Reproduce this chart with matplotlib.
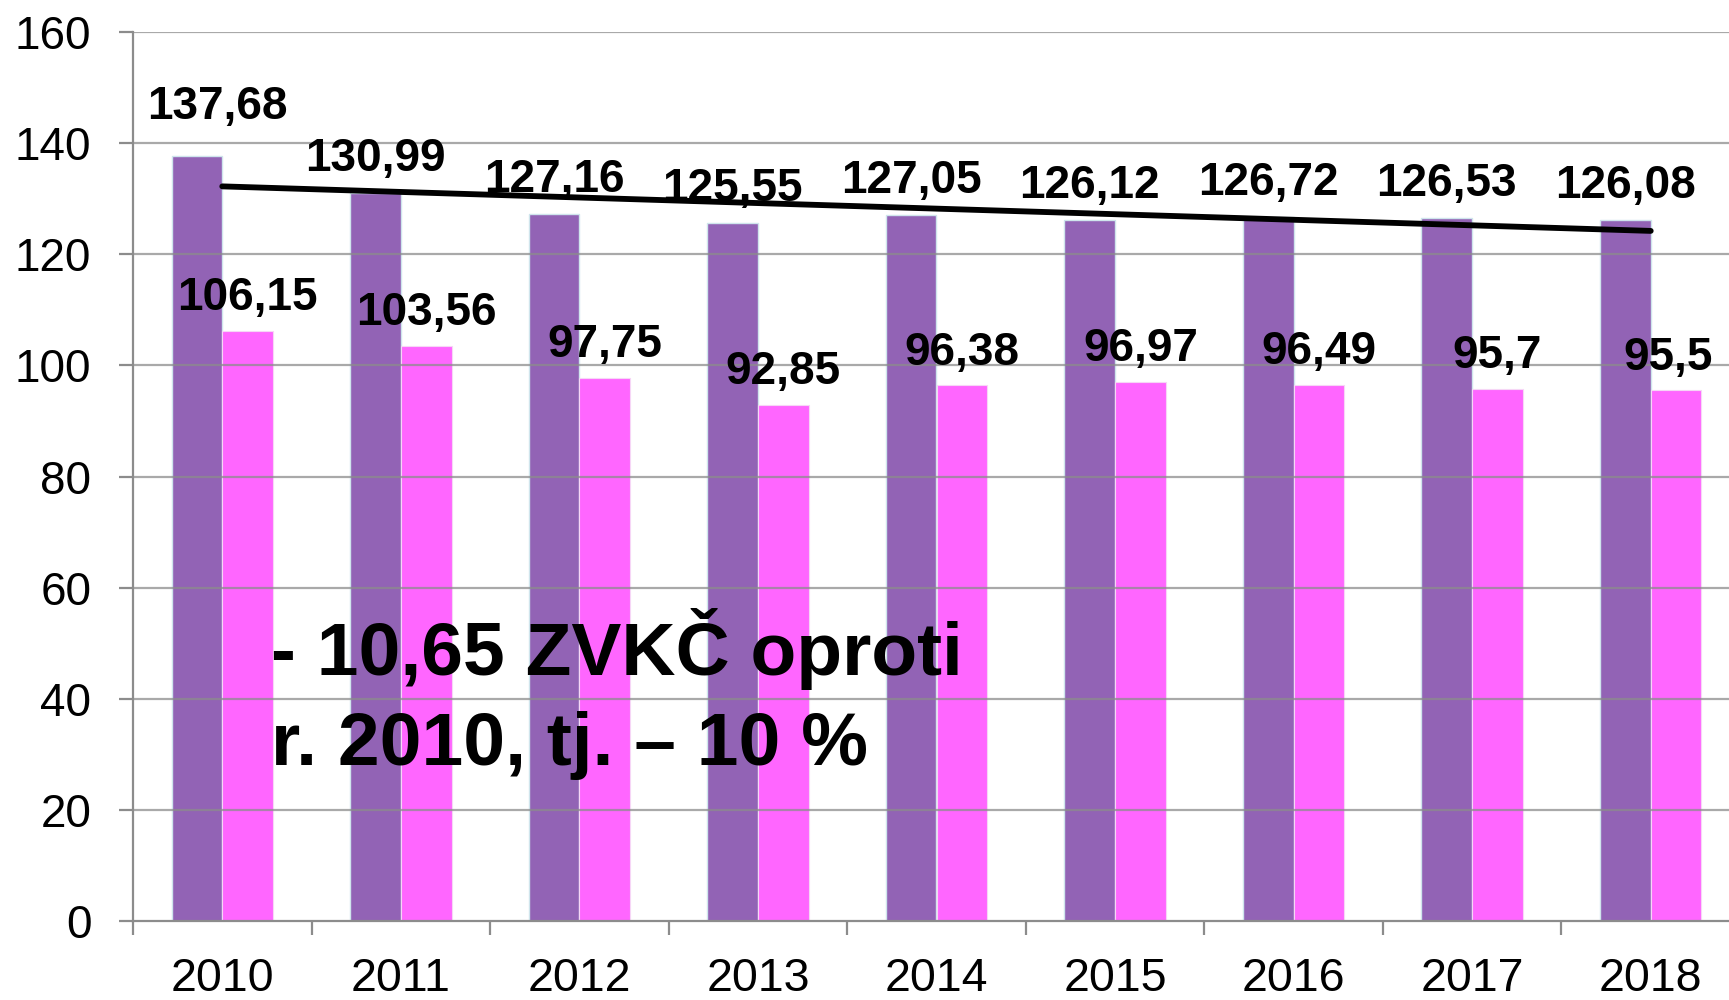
import numpy as np
import matplotlib
matplotlib.use("Agg")
import matplotlib.pyplot as plt
from matplotlib.ticker import FixedLocator, NullFormatter, FixedFormatter

plt.rcParams['font.family'] = ['Liberation Sans', 'DejaVu Sans']

years = ['2010', '2011', '2012', '2013', '2014', '2015', '2016', '2017', '2018']
series_a = [137.68, 130.99, 127.16, 125.55, 127.05, 126.12, 126.72, 126.53, 126.08]
series_b = [106.15, 103.56, 97.75, 92.85, 96.38, 96.97, 96.49, 95.7, 95.5]
labels_a = ['137,68', '130,99', '127,16', '125,55', '127,05', '126,12', '126,72', '126,53', '126,08']
labels_b = ['106,15', '103,56', '97,75', '92,85', '96,38', '96,97', '96,49', '95,7', '95,5']
annotation = "- 10,65 ZVKČ oproti\nr. 2010, tj. – 10 %"

# label offsets in points (dx, dy)
offs_a = [(15, 27)] + [(0, 16)] * 8
offs_b = [(0, 15)] * 8 + [(-6, 15)]

purple = '#9263b5'
pink = '#ff66ff'
grid_c = '#8c8c8c'

fig = plt.figure(figsize=(17.29, 10), dpi=100)
left = 133 / 1729
bottom = 1 - 921 / 1000
top = 1 - 32 / 1000
width = (1740 - 133) / 1729
ax = fig.add_axes([left, bottom, width, top - bottom])

x = np.arange(len(years))
w = 0.284
ax.bar(x - w / 2, series_a, width=w, color=purple, edgecolor='#cfe5ec', linewidth=1, zorder=1)
ax.bar(x + w / 2, series_b, width=w, color=pink, edgecolor='#f6d6f6', linewidth=0.8, zorder=1)

# gridlines on top (semi-transparent)
for v in range(20, 161, 20):
    ax.axhline(v, color=grid_c, lw=1.6, alpha=0.75, zorder=2)

# linear trend of series a
k, b0 = np.polyfit(x, series_a, 1)
ax.plot([x[0], x[-1]], [b0 + k * x[0], b0 + k * x[-1]], color='black', lw=4.2,
        solid_capstyle='round', zorder=4)

for i in range(len(years)):
    ax.annotate(labels_a[i], (x[i] - w / 2, series_a[i]), xytext=offs_a[i], textcoords='offset points',
                ha='center', va='baseline', fontsize=33, fontweight='bold', zorder=5)
    ax.annotate(labels_b[i], (x[i] + w / 2, series_b[i]), xytext=offs_b[i], textcoords='offset points',
                ha='center', va='baseline', fontsize=33, fontweight='bold', zorder=5)

ax.text(271 / 1729, 1 - 765 / 1000, annotation, transform=fig.transFigure, fontsize=54,
        fontweight='bold', ha='left', va='baseline', linespacing=1.38, zorder=6)

ax.set_xlim(-0.5, len(years) - 0.5)
ax.set_ylim(0, 160)
ax.set_yticks(range(0, 161, 20))
ax.set_yticklabels([str(v) for v in range(0, 161, 20)])
ax.tick_params(axis='y', length=10, width=1.6, color=grid_c, pad=20, labelsize=33)

ax.xaxis.set_major_locator(FixedLocator(np.arange(-0.5, len(years), 1.0)))
ax.xaxis.set_major_formatter(NullFormatter())
ax.xaxis.set_minor_locator(FixedLocator(x))
ax.xaxis.set_minor_formatter(FixedFormatter(years))
ax.tick_params(axis='x', which='major', length=10, width=1.6, color=grid_c)
ax.tick_params(axis='x', which='minor', length=0, pad=26, labelsize=33.5)

for s in ['top', 'right']:
    ax.spines[s].set_visible(False)
for s in ['left', 'bottom']:
    ax.spines[s].set_color(grid_c)
    ax.spines[s].set_linewidth(1.6)
ax.spines['left'].set_zorder(3)

fig.savefig('out.png', dpi=100)
